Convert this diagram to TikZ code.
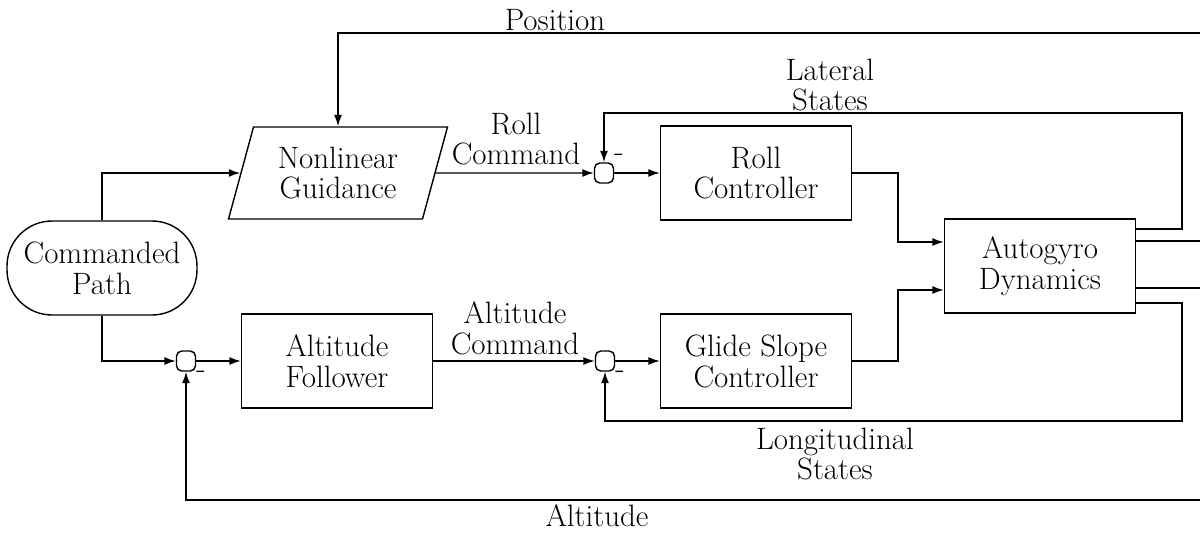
\documentclass[tikz,border=0pt]{standalone}
\usepackage{tikz}
\usetikzlibrary{shapes.geometric, arrows.meta, positioning}
\tikzstyle{startstop} = [rectangle, rounded corners=0.9cm, minimum width=3.8cm, minimum height=1.88cm, inner sep=1pt, align=center, draw=black, fill=white, line width=0.8pt]
\tikzstyle{process} = [rectangle, minimum width=3.82cm, minimum height=1.88cm, align=center, draw=black, fill=white, line width=0.8pt]
\tikzstyle{io} = [trapezium, trapezium left angle=72, trapezium right angle=108, trapezium stretches=true, minimum width=4.4cm, minimum height=1.84cm, inner sep=1pt, align=center, draw=black, fill=white, line width=0.8pt]
\tikzstyle{sumjunc} = [rectangle, rounded corners=3pt, minimum width=0.38cm, minimum height=0.4cm, inner sep=0pt, draw=black, line width=0.8pt]
\tikzstyle{signal} = [align=center, inner sep=0pt]
\tikzstyle{arrow} = [line width=0.8pt, -{Latex[length=6.5pt,width=4.5pt]}]

\begin{document}
\begin{tikzpicture}[x=0.02cm, y=-0.02cm, font=\fontsize{17.6}{17.6}\selectfont]
                \useasboundingbox (0,0) rectangle (1200,534);

                \node (path) [startstop] at (102,268) {Commanded\\Path};
                \node (guidance) [io] at (338,173) {Nonlinear\\Guidance};
                \node (follower) [process] at (337,361) {Altitude\\Follower};

                \node (sum_roll) [sumjunc] at (604,173) {};
                \node (sum_alt) [sumjunc] at (186,361) {};
                \node (sum_glide) [sumjunc] at (605,361) {};

                \node (roll) [process] at (756,173) {Roll\\Controller};
                \node (glide) [process] at (756,361) {Glide Slope\\Controller};
                \node (dynamics) [process] at (1040,266) {Autogyro\\Dynamics};

% ---------------------------------------------
% Signs and signal names
% ---------------------------------------------
                \node (neg_roll) [signal] at (619,158) {-};
                \node (neg_alt) [signal] at (201,375) {-};
                \node (neg_glide) [signal] at (620,375) {-};

                \node (roll_cmd) [signal] at (516,139) {Roll\\Command};
                \node (alt_cmd) [signal] at (515,328) {Altitude\\Command};
                \node (position) [signal] at (555,20) {Position};
                \node (lateral) [signal] at (830,85) {Lateral\\States};
                \node (longitudinal) [signal] at (835,454) {Longitudinal\\States};
                \node (altitude) [signal] at (597,516) {Altitude};

% ---------------------------------------------
% Forward arrows
% ---------------------------------------------
                \draw [arrow] (path.north) |- (guidance);
                \draw [arrow] (path.south) |- (sum_alt);
                \draw [arrow] (sum_alt) -- (follower);
                \draw [arrow] (follower) -- (sum_glide);
                \draw [arrow] (sum_glide) -- (glide);
                \draw [arrow] (guidance) -- (sum_roll);
                \draw [arrow] (sum_roll) -- (roll);
                \draw [arrow] (roll.east) -| ([xshift=-0.92cm,yshift=0.48cm]dynamics.west) -- ([yshift=0.48cm]dynamics.west);
                \draw [arrow] (glide.east) -| ([xshift=-0.92cm,yshift=-0.48cm]dynamics.west) -- ([yshift=-0.48cm]dynamics.west);

% ---------------------------------------------
% Feedback arrows
% ---------------------------------------------
                \coordinate (lat_corner) at (1182,113);
                \coordinate (pos_corner) at (1204,33);
                \coordinate (alt_corner) at (1204,500);
                \coordinate (lon_corner) at (1182,421);

                \draw [arrow] ([yshift=0.74cm]dynamics.east) -| (lat_corner) -| (sum_roll);
                \draw [arrow] ([yshift=0.5cm]dynamics.east) -| (pos_corner) -| (guidance);
                \draw [arrow] ([yshift=-0.44cm]dynamics.east) -| (alt_corner) -| (sum_alt);
                \draw [arrow] ([yshift=-0.74cm]dynamics.east) -| (lon_corner) -| (sum_glide);

\end{tikzpicture}
\end{document}
